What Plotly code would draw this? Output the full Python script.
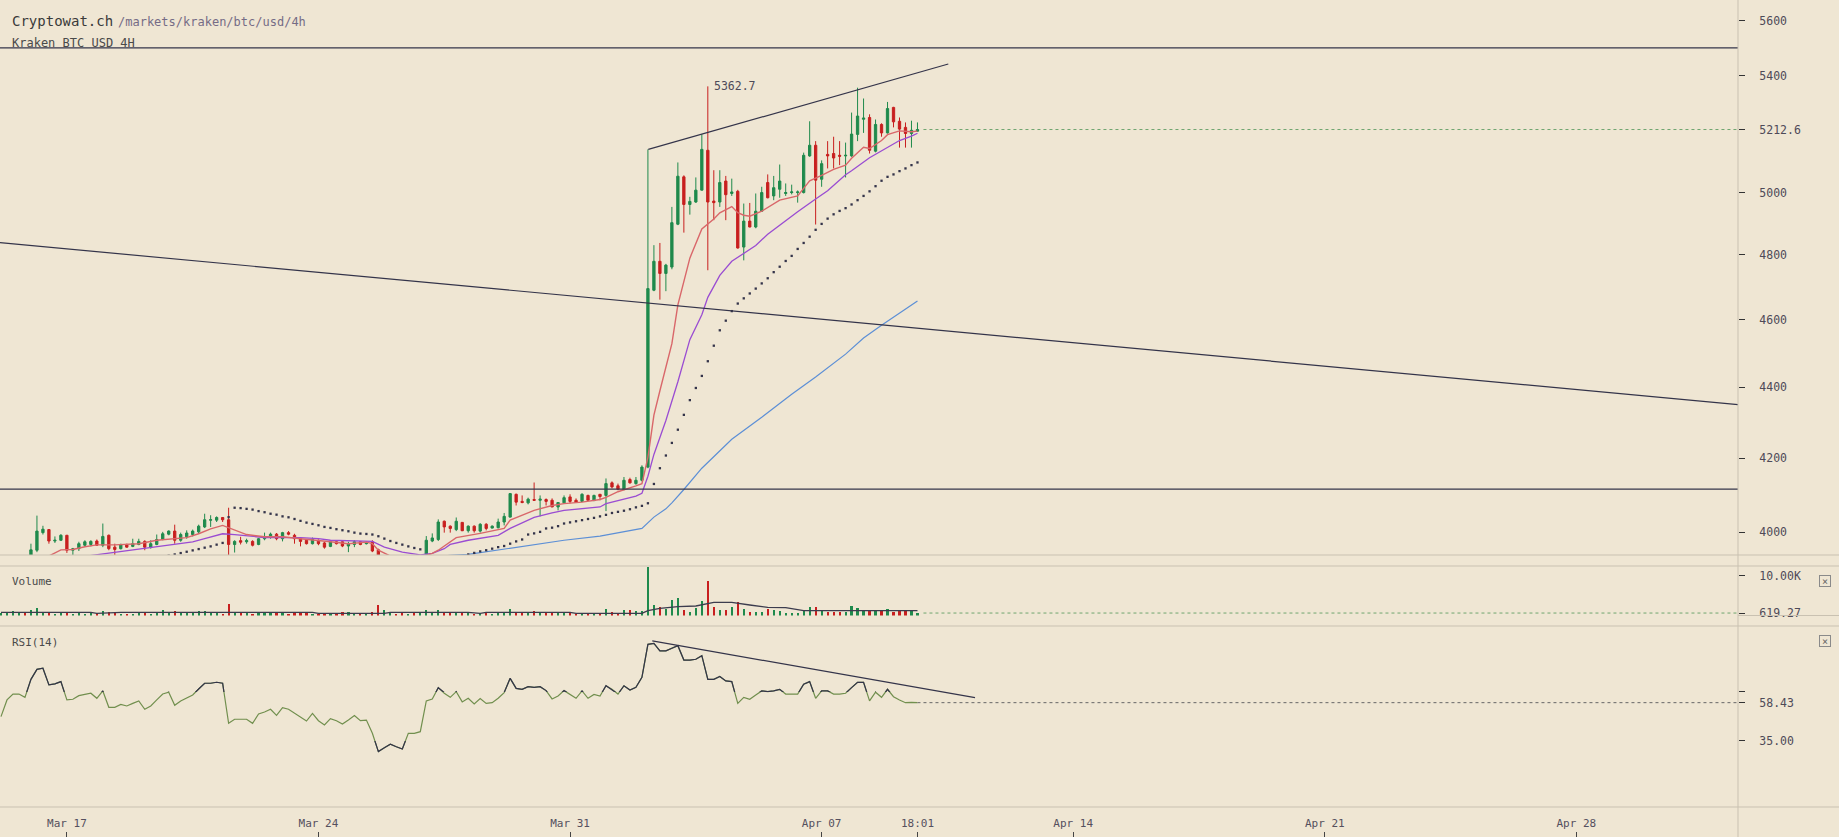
import math
import pandas as pd
import plotly.graph_objects as go

W, H = 1839, 837
BG = "#EFE6D3"
GREEN = "#1F8A4C"
RED = "#C81F1F"
DARK = "#34344A"
SEP = "#C9C1B1"
MONO = "DejaVu Sans Mono"

# ------------------------------------------------------------------ data
FIRST_CANDLE = "2019-03-15 04:00"   # 4h candles, Kraken BTC/USD

OPEN = [3922, 3926, 3933, 3936, 3937, 3933, 3953, 3999, 4007, 3977, 3979,
        3992, 3953, 3957, 3966, 3968, 3977, 3966, 3992, 3961, 3957,
        3968, 3963, 3968, 3976, 3961, 3968, 3981, 3995, 4003, 3979,
        3988, 3994, 4001, 4014, 4032, 4032, 4039, 4033, 3968, 3978,
        3975, 3976, 3968, 3983, 3988, 3995, 3983, 3999, 3992, 3983,
        3979, 3970, 3979, 3972, 3963, 3975, 3975, 3964, 3968, 3975,
        3970, 3975, 3954, 3925, 3929, 3933, 3922, 3912, 3932, 3931,
        3935, 3977, 3981, 4029, 4016, 4007, 4026, 4004, 4016, 4003,
        4021, 4011, 4012, 4027, 4040, 4101, 4082, 4078, 4087, 4085,
        4087, 4085, 4067, 4078, 4094, 4085, 4082, 4098, 4084, 4101,
        4098, 4132, 4124, 4114, 4141, 4130, 4139, 4175, 4690, 4780,
        4742, 4762, 4898, 5053, 4962, 4970, 5009, 5142, 4973, 4970,
        5039, 4998, 5005, 4825, 4908, 4889, 4940, 5034, 4990, 5012,
        4998, 5001, 5001, 5001, 5123, 5159, 5045, 5128, 5131, 5125,
        5123, 5123, 5196, 5248, 5254, 5139, 5230, 5201, 5289, 5241,
        5220, 5199, 5207]
HIGH = [3930, 3936, 3938, 3938, 3938, 3970, 4044, 4017, 4008, 3989, 3995,
        3993, 3959, 3975, 3979, 3979, 3981, 4023, 3994, 3970, 3970,
        3970, 3983, 3983, 3979, 3979, 3994, 4001, 4005, 4020, 3999,
        4005, 4007, 4020, 4049, 4045, 4042, 4040, 4065, 3979, 3988,
        3983, 3979, 3985, 3999, 3999, 3998, 4001, 4003, 3996, 3986,
        3981, 3986, 3981, 3975, 3976, 3976, 3976, 3975, 3979, 3976,
        3976, 3979, 3957, 3932, 3936, 3935, 3926, 3937, 3936, 3938,
        3990, 3997, 4034, 4031, 4018, 4039, 4027, 4018, 4018, 4024,
        4024, 4018, 4036, 4051, 4104, 4103, 4098, 4092, 4133, 4098,
        4090, 4090, 4080, 4098, 4101, 4090, 4104, 4100, 4100, 4102,
        4144, 4136, 4130, 4148, 4146, 4148, 4180, 5145, 4831, 4838,
        4772, 4954, 5101, 5058, 4987, 5051, 5196, 5362.7, 5075, 5075,
        5056, 5047, 5010, 4965, 4967, 4998, 5020, 5061, 5056, 5094,
        5031, 5027, 5008, 5134, 5241, 5173, 5108, 5173, 5188, 5173,
        5168, 5271, 5358, 5320, 5265, 5247, 5234, 5308, 5291, 5254,
        5237, 5243, 5237]
LOW = [3912, 3922, 3928, 3929, 3926, 3925, 3948, 3994, 3970, 3972, 3977,
       3946, 3938, 3951, 3963, 3963, 3964, 3961, 3953, 3939, 3955,
       3960, 3961, 3966, 3953, 3957, 3966, 3979, 3992, 3970, 3975,
       3983, 3989, 3996, 4011, 4014, 4027, 4027, 3938, 3947, 3968,
       3970, 3963, 3966, 3979, 3983, 3979, 3976, 3992, 3970, 3963,
       3968, 3968, 3966, 3957, 3961, 3968, 3961, 3948, 3961, 3966,
       3968, 3948, 3915, 3910, 3920, 3915, 3905, 3910, 3922, 3925,
       3930, 3974, 3977, 3999, 3999, 4003, 4003, 3999, 3999, 3999,
       4005, 4010, 4010, 4018, 4039, 4071, 4077, 4074, 4084, 4042,
       4071, 4067, 4058, 4077, 4077, 4078, 4080, 4083, 4083, 4085,
       4056, 4117, 4112, 4112, 4130, 4127, 4136, 4172, 4687, 4661,
       4687, 4755, 4895, 4871, 4929, 4967, 5008, 4752, 4911, 4954,
       4911, 4990, 4820, 4783, 4888, 4885, 4938, 4982, 4976, 4984,
       4990, 4995, 4968, 4998, 5120, 4897, 5020, 5081, 5081, 5092,
       5051, 5120, 5173, 5201, 5131, 5135, 5188, 5199, 5220, 5151,
       5151, 5151, 5205]
CLOSE = [3926, 3933, 3936, 3937, 3933, 3954, 4003, 4008, 3977, 3979, 3992,
         3953, 3957, 3970, 3975, 3976, 3966, 3989, 3957, 3955, 3968,
         3961, 3970, 3976, 3961, 3970, 3981, 3996, 4003, 3979, 3994,
         3998, 4003, 4016, 4033, 4033, 4039, 4033, 3968, 3976, 3974,
         3978, 3966, 3983, 3988, 3995, 3983, 3999, 3995, 3983, 3976,
         3970, 3981, 3970, 3961, 3975, 3970, 3964, 3970, 3975, 3968,
         3972, 3951, 3925, 3929, 3933, 3922, 3912, 3932, 3931, 3935,
         3979, 3985, 4027, 4014, 4010, 4029, 4004, 4016, 4004, 4021,
         4010, 4016, 4027, 4042, 4103, 4080, 4079, 4088, 4085, 4088,
         4082, 4067, 4079, 4092, 4082, 4079, 4101, 4085, 4098, 4095,
         4130, 4121, 4115, 4139, 4132, 4139, 4175, 4695, 4780, 4742,
         4768, 4903, 5055, 4962, 4972, 5009, 5145, 4970, 4968, 5034,
         4994, 5003, 4822, 4908, 4889, 4940, 5001, 4984, 5017, 5039,
         5001, 5003, 5003, 5125, 5159, 5042, 5097, 5123, 5116, 5122,
         5125, 5197, 5259, 5252, 5142, 5230, 5201, 5285, 5239, 5214,
         5199, 5210, 5212.6]
VOLUME = [700, 600, 1130, 550, 720, 1380, 1880, 800, 650, 500, 700,
          750, 480, 560, 420, 600, 520, 1130, 900, 700, 450,
          380, 500, 600, 650, 480, 900, 1380, 700, 1130, 650,
          550, 700, 1200, 1130, 800, 650, 500, 2890, 900, 650,
          550, 500, 700, 600, 550, 650, 800, 500, 700, 600,
          550, 500, 450, 600, 500, 420, 800, 900, 550, 480,
          400, 1000, 2640, 1380, 700, 500, 600, 450, 550, 600,
          1380, 700, 1380, 900, 650, 700, 600, 550, 500, 700,
          550, 450, 650, 800, 1630, 1000, 700, 600, 1130, 800,
          600, 700, 550, 650, 600, 500, 700, 550, 600, 500,
          1630, 800, 700, 1380, 1380, 1130, 1215, 12270, 2640, 2220,
          1700, 3890, 4310, 1380, 963, 1800, 3640, 8670, 2220, 1380,
          1380, 2220, 3300, 1630, 963, 963, 963, 1630, 1380, 1130,
          712, 545, 545, 1380, 2220, 2050, 1380, 963, 963, 800,
          963, 2300, 1800, 1380, 1380, 1215, 1215, 1550, 963, 1215,
          1130, 1130, 619.27]
RSI = [49.9, 60.1, 63.7, 63.7, 61.7, 72.7, 78.8, 79.5, 69.3, 69.9, 71.3,
       60.1, 60.5, 62.7, 63.5, 64.2, 61.1, 65.6, 55.6, 55.6, 57.4,
       56.4, 58.0, 59.5, 54.4, 56.4, 60.1, 63.7, 64.8, 56.8, 59.5,
       61.1, 63.1, 66.8, 70.3, 70.3, 70.9, 70.3, 45.8, 48.3, 48.3,
       48.3, 45.8, 51.5, 52.7, 54.4, 50.7, 55.4, 54.4, 51.9, 49.9,
       47.2, 51.9, 47.4, 44.8, 48.7, 47.4, 45.4, 47.8, 50.5, 47.4,
       47.8, 39.7, 28.5, 30.9, 33.0, 31.5, 30.1, 39.7, 39.7, 40.7,
       59.5, 60.7, 67.6, 64.2, 61.7, 65.2, 58.9, 61.1, 57.6, 60.9,
       58.0, 58.4, 61.1, 64.6, 73.3, 67.2, 66.6, 68.2, 67.8, 68.2,
       65.8, 60.7, 62.5, 65.8, 63.5, 61.1, 65.6, 61.1, 63.5, 62.5,
       68.8, 66.6, 63.7, 68.8, 66.2, 67.8, 73.9, 94.1, 94.7, 90.1,
       90.1, 91.7, 93.3, 84.5, 84.5, 85.0, 87.2, 72.7, 72.7, 74.4,
       71.7, 71.3, 58.0, 61.7, 60.5, 63.1, 65.6, 65.2, 65.6, 66.6,
       63.7, 63.7, 63.7, 69.7, 71.3, 61.1, 65.6, 65.6, 63.7, 63.7,
       64.2, 67.6, 70.9, 70.9, 59.5, 64.8, 61.7, 66.6, 62.1, 60.1,
       58.4, 58.6, 58.43]
SAR = [3905, 3906, 3908, 3910, 3911, 3912, 3913, 3915, 3917, 3919, 3921,
       3922, 3923, 3924, 3925, 3926, 3927, 3928, 3929, 3929, 3930,
       3930, 3931, 3931, 3932, 3932, 3933, 3933,
       3938.6, 3942, 3945.6, 3949, 3952.6, 3956, 3959.6, 3963, 3967.5, 3972,
       4040,
       4065, 4064, 4062, 4060, 4056, 4053, 4049, 4046.5, 4042, 4039.5,
       4035, 4030, 4025.4, 4022, 4018.4, 4014, 4011.4, 4008, 4005.3, 4002.6,
       3999, 3996.5, 3995.5, 3994, 3989.5, 3983.3, 3977, 3972, 3967.5, 3963,
       3958.8, 3955.3,
       3915, 3917, 3920, 3923, 3927, 3931, 3935,
       3942, 3946, 3950, 3953, 3957, 3961, 3964, 3970, 3976, 3981,
       3994, 3997, 4001, 4010, 4012, 4016, 4023, 4026, 4029, 4032,
       4035, 4038, 4042, 4046, 4051, 4054, 4057, 4061, 4066, 4070, 4077,
       4129, 4172, 4207, 4242, 4279, 4321, 4363, 4398, 4433, 4476,
       4522, 4568, 4597, 4626, 4649, 4665, 4680, 4695, 4711, 4727,
       4746, 4763, 4781, 4797, 4819, 4838, 4858, 4880, 4899, 4916,
       4930, 4941, 4950, 4962, 4976, 4990, 5005, 5022, 5040, 5053,
       5061, 5072, 5081, 5092, 5101]

# moving averages read at selected candles (candle index, price)
MA_FAST_IDX = [6, 8, 10, 12, 14, 16, 19, 21, 23, 26, 28, 31, 33, 35, 37, 39, 41, 44, 47,
               50, 53, 55, 58, 61, 62, 63, 65, 67, 69, 71, 72, 73, 76, 80, 84, 85, 89,
               92, 94, 97, 100, 101, 103, 106, 107, 108, 109, 110, 111, 112, 113, 114,
               115, 117, 118, 119, 120, 122, 123, 124, 125, 127, 130, 133, 134, 135,
               137, 139, 141, 142, 144, 145, 147, 148, 150, 152, 153]
MA_FAST = [3925, 3938, 3954, 3955, 3962, 3967, 3967, 3968, 3970, 3979, 3982, 3986, 3996,
           4009, 4018, 4005, 3994, 3988, 3988, 3983, 3979, 3975, 3970, 3974, 3970, 3953,
           3938, 3928, 3928, 3938, 3945, 3953, 3986, 3997, 4010, 4032, 4058, 4071, 4076,
           4080, 4087, 4093, 4108, 4124, 4130, 4202, 4320, 4390, 4460, 4528, 4645, 4720,
           4790, 4883, 4899, 4915, 4935, 4955, 4935, 4927, 4924, 4940, 4976, 4990, 5015,
           5040, 5058, 5078, 5092, 5115, 5152, 5148, 5175, 5195, 5208, 5205, 5207]
MA_MID_IDX = [13, 15, 18, 21, 24, 26, 29, 32, 34, 37, 39, 41, 44, 50, 53, 55, 58, 62,
              64, 67, 70, 72, 74, 75, 78, 83, 85, 89, 92, 94, 100, 101, 106, 107, 108,
              109, 111, 113, 115, 117, 118, 120, 122, 126, 128, 131, 133, 136, 138, 141,
              142, 145, 148, 150, 152, 153]
MA_MID = [3935, 3939, 3945, 3951, 3957, 3961, 3968, 3975, 3983, 3996, 3994, 3990, 3986,
          3986, 3983, 3979, 3977, 3976, 3961, 3948, 3941, 3945, 3957, 3968, 3979, 3992,
          4010, 4039, 4051, 4058, 4067, 4076, 4096, 4104, 4150, 4210, 4305, 4416, 4540,
          4615, 4668, 4736, 4780, 4830, 4866, 4910, 4938, 4980, 5007, 5060, 5073, 5117,
          5150, 5175, 5190, 5200]
MA_SLOW_IDX = [73, 75, 78, 83, 89, 94, 100, 103, 107, 109, 111, 112, 114, 117, 120, 122,
               127, 132, 136, 141, 144, 147, 153]
MA_SLOW = [3936, 3940, 3942, 3953, 3966, 3979, 3990, 3998, 4010, 4040, 4062, 4078, 4114,
           4172, 4220, 4252, 4314, 4380, 4430, 4497, 4545, 4583, 4657]
VOL_MA_IDX = [0, 15, 16, 20, 52, 53, 64, 65, 78, 80, 81, 95, 96, 107, 108, 110, 113, 116,
              119, 122, 125, 128, 131, 133, 134, 153]
VOL_MA = [795, 795, 545, 795, 795, 545, 545, 795, 795, 545, 795, 795, 545, 545, 1214,
          1801, 2220, 2387, 3308, 3308, 2638, 2052, 1968, 1382, 1214, 1214]

# drawn trend lines
WEDGE_X = ["2019-04-02 04:15", "2019-04-10 12:35"]
WEDGE_Y = [5145, 5442]
DESC_X = ["2019-03-15 03:20", "2019-05-02 11:56"]
DESC_Y = [4839, 4350]
LEVELS = [5500, 4115]
RSI_TREND_X = ["2019-04-02 06:55", "2019-04-11 06:25"]
RSI_TREND_Y = [96.2, 61.5]

LAST_PRICE = 5212.6
LAST_VOLUME = 619.27
LAST_RSI = 58.43
HIGH_LABEL = 5362.7
RSI_BANDS = [35, 65]

X_RANGE = ["2019-03-15 03:20", "2019-05-02 11:56"]
X_TICKS = ["2019-03-17", "2019-03-24", "2019-03-31", "2019-04-07",
           "2019-04-09 16:00", "2019-04-14", "2019-04-21", "2019-04-28"]
X_TICKTEXT = ["Mar 17", "Mar 24", "Mar 31", "Apr 07", "18:01", "Apr 14", "Apr 21", "Apr 28"]
PRICE_TICKS = [4000, 4200, 4400, 4600, 4800, 5000, 5400, 5600]
VOL_TICKS = [10000]

# ------------------------------------------------------------------ layout geometry
XD = 1738 / W


def pdom(top_px, bot_px):
    return [1 - bot_px / H, 1 - top_px / H]


PRICE_DOM = pdom(0, 555)
VOL_DOM = pdom(566, 615.5)
RSI_DOM = pdom(626, 807)
PRICE_RANGE = [math.log10(3940.6), math.log10(5676.0)]
VOL_RANGE = [0, 12440]
RSI_RANGE = [-5.38, 105.32]


def rsi_frac(v):
    d0, d1 = RSI_DOM
    return d0 + (v - RSI_RANGE[0]) / (RSI_RANGE[1] - RSI_RANGE[0]) * (d1 - d0)


times = pd.date_range(FIRST_CANDLE, periods=len(OPEN), freq="4h")
step = pd.Timedelta(hours=4)
up = [c >= o for o, c in zip(OPEN, CLOSE)]
bar_colors = [GREEN if u else RED for u in up]

fig = go.Figure()

# price panel
fig.add_trace(go.Candlestick(
    x=times, open=OPEN, high=HIGH, low=LOW, close=CLOSE,
    increasing=dict(line=dict(color=GREEN, width=1), fillcolor=GREEN),
    decreasing=dict(line=dict(color=RED, width=1), fillcolor=RED),
    whiskerwidth=0, xaxis="x", yaxis="y", hoverinfo="skip", showlegend=False))

fig.add_trace(go.Scatter(x=times[MA_SLOW_IDX], y=MA_SLOW, mode="lines",
                         line=dict(color="#5C8FD6", width=1.2), yaxis="y", showlegend=False))
fig.add_trace(go.Scatter(x=times[MA_MID_IDX], y=MA_MID, mode="lines",
                         line=dict(color="#9A4CD2", width=1.3), yaxis="y", showlegend=False))
fig.add_trace(go.Scatter(x=times[MA_FAST_IDX], y=MA_FAST, mode="lines",
                         line=dict(color="#D9676A", width=1.4), yaxis="y", showlegend=False))
fig.add_trace(go.Scatter(x=times, y=SAR, mode="markers",
                         marker=dict(symbol="square", size=2.3, color=DARK, line=dict(width=0)),
                         yaxis="y", showlegend=False))

for lv in LEVELS:
    fig.add_trace(go.Scatter(x=X_RANGE, y=[lv, lv], mode="lines",
                             line=dict(color=DARK, width=1.3), yaxis="y", showlegend=False))
fig.add_trace(go.Scatter(x=DESC_X, y=DESC_Y, mode="lines",
                         line=dict(color=DARK, width=1.2), yaxis="y", showlegend=False))
fig.add_trace(go.Scatter(x=WEDGE_X, y=WEDGE_Y, mode="lines",
                         line=dict(color=DARK, width=1.2), yaxis="y", showlegend=False))
fig.add_trace(go.Scatter(x=[times[-1] + step, X_RANGE[1]], y=[LAST_PRICE, LAST_PRICE],
                         mode="lines", line=dict(color="#6FA56F", width=1, dash="dot"),
                         yaxis="y", showlegend=False))

# volume panel
fig.add_trace(go.Bar(x=times, y=VOLUME, marker=dict(color=bar_colors, line=dict(width=0)),
                     width=1.45 * 3600 * 1000, xaxis="x", yaxis="y2", showlegend=False))
fig.add_trace(go.Scatter(x=times[VOL_MA_IDX], y=VOL_MA, mode="lines",
                         line=dict(color="#3C3C4E", width=1.3), yaxis="y2", showlegend=False))
fig.add_trace(go.Scatter(x=[times[-1] + step, X_RANGE[1]], y=[LAST_VOLUME, LAST_VOLUME],
                         mode="lines", line=dict(color="#6FA56F", width=1, dash="dot"),
                         yaxis="y2", showlegend=False))

# RSI panel (dark above/below bands via clipped overlay axes)
fig.add_trace(go.Scatter(x=times, y=RSI, mode="lines", line=dict(color="#718F4E", width=1.2),
                         yaxis="y3", showlegend=False))
fig.add_trace(go.Scatter(x=times, y=RSI, mode="lines", line=dict(color=DARK, width=1.2),
                         yaxis="y4", showlegend=False))
fig.add_trace(go.Scatter(x=times, y=RSI, mode="lines", line=dict(color=DARK, width=1.2),
                         yaxis="y5", showlegend=False))
fig.add_trace(go.Scatter(x=RSI_TREND_X, y=RSI_TREND_Y, mode="lines",
                         line=dict(color=DARK, width=1.2), yaxis="y3", showlegend=False))
fig.add_trace(go.Scatter(x=[times[-1], X_RANGE[1]], y=[LAST_RSI, LAST_RSI], mode="lines",
                         line=dict(color="#666", width=1, dash="dot"),
                         xaxis="x2", yaxis="y3", showlegend=False))

axis_common = dict(showgrid=False, zeroline=False, showline=False, automargin=False)
tick_font = dict(family=MONO, size=11.5, color="#4E4A58")

fig.update_layout(
    width=W, height=H, margin=dict(l=0, r=0, t=0, b=0, autoexpand=False), autosize=False,
    paper_bgcolor=BG, plot_bgcolor="rgba(0,0,0,0)", showlegend=False, boxgap=0.45,
    bargap=0,
    xaxis=dict(domain=[0, XD], range=X_RANGE, type="date", anchor="y3",
               rangeslider=dict(visible=False), tickvals=X_TICKS, ticktext=X_TICKTEXT,
               ticks="", tickfont=dict(family=MONO, size=11, color="#55505E"),
               ticklabelstandoff=8, **axis_common),
    xaxis2=dict(domain=[0, XD], range=X_RANGE, type="date", anchor="free", position=0,
                overlaying="x", side="bottom", tickvals=X_TICKS, ticks="inside", ticklen=5,
                tickcolor="#444", showticklabels=False, **axis_common),
    yaxis=dict(domain=PRICE_DOM, type="log", range=PRICE_RANGE, side="right", anchor="x",
               tickvals=PRICE_TICKS + [LAST_PRICE],
               ticktext=[str(v) for v in PRICE_TICKS] + [f"{LAST_PRICE:.1f}"],
               ticks="outside", ticklen=6, tickcolor="#333", tickfont=tick_font,
               ticklabelstandoff=12, **axis_common),
    yaxis2=dict(domain=VOL_DOM, range=VOL_RANGE, side="right", anchor="x",
                tickvals=VOL_TICKS + [LAST_VOLUME],
                ticktext=["10.00K", f"{LAST_VOLUME:.2f}"],
                ticks="outside", ticklen=6, tickcolor="#333", tickfont=tick_font,
                ticklabelstandoff=12, **axis_common),
    yaxis3=dict(domain=RSI_DOM, range=RSI_RANGE, side="right", anchor="x",
                tickvals=[RSI_BANDS[0], LAST_RSI, RSI_BANDS[1]],
                ticktext=[f"{RSI_BANDS[0]:.2f}", f"{LAST_RSI:.2f}", ""],
                ticks="outside", ticklen=6, tickcolor="#333", tickfont=tick_font,
                ticklabelstandoff=12, **axis_common),
    yaxis4=dict(domain=[rsi_frac(RSI_BANDS[1]), RSI_DOM[1]], range=[RSI_BANDS[1], RSI_RANGE[1]],
                anchor="x", visible=False, **axis_common),
    yaxis5=dict(domain=[RSI_DOM[0], rsi_frac(RSI_BANDS[0])], range=[RSI_RANGE[0], RSI_BANDS[0]],
                anchor="x", visible=False, **axis_common),
)

# separators and axis border
shapes = [dict(type="line", xref="paper", yref="paper", x0=XD, x1=XD, y0=0, y1=1,
               line=dict(color=SEP, width=1))]
for ypx in (555, 566, 626, 807):
    shapes.append(dict(type="line", xref="paper", yref="paper", x0=0, x1=1,
                       y0=1 - ypx / H, y1=1 - ypx / H, line=dict(color=SEP, width=1)))
shapes.append(dict(type="line", xref="paper", yref="paper", x0=XD, x1=1,
                   y0=1 - 615.5 / H, y1=1 - 615.5 / H, line=dict(color=SEP, width=1)))
fig.update_layout(shapes=shapes)

ann = [
    dict(text="Cryptowat.ch", x=10 / W, y=1 - 21 / H, xref="paper", yref="paper",
         xanchor="left", yanchor="middle", showarrow=False,
         font=dict(family=MONO, size=14, color="#3A3A3A")),
    dict(text="/markets/kraken/btc/usd/4h", x=116 / W, y=1 - 22 / H, xref="paper", yref="paper",
         xanchor="left", yanchor="middle", showarrow=False,
         font=dict(family=MONO, size=12, color="#756C86")),
    dict(text="Kraken BTC USD 4H", x=10 / W, y=1 - 43 / H, xref="paper", yref="paper",
         xanchor="left", yanchor="middle", showarrow=False,
         font=dict(family=MONO, size=12, color="#4A4A4A")),
    dict(text="Volume", x=10 / W, y=1 - 581 / H, xref="paper", yref="paper",
         xanchor="left", yanchor="middle", showarrow=False,
         font=dict(family=MONO, size=11, color="#4A4A4A")),
    dict(text="RSI(14)", x=10 / W, y=1 - 642 / H, xref="paper", yref="paper",
         xanchor="left", yanchor="middle", showarrow=False,
         font=dict(family=MONO, size=11, color="#4A4A4A")),
    dict(text=f"{HIGH_LABEL}", x=times[HIGH.index(HIGH_LABEL)], y=math.log10(HIGH_LABEL),
         xref="x", yref="y", xanchor="left", yanchor="middle", xshift=4, showarrow=False,
         font=dict(family=MONO, size=11.5, color="#4E4A58")),
]
for ypx in (581, 641):
    ann.append(dict(text="×", x=1825 / W, y=1 - ypx / H, xref="paper", yref="paper",
                    xanchor="center", yanchor="middle", showarrow=False, width=10, height=10,
                    bordercolor="#8A8A8A", borderwidth=1, borderpad=0,
                    font=dict(family=MONO, size=10, color="#666")))
fig.update_layout(annotations=ann)

fig.write_html("out.html")
